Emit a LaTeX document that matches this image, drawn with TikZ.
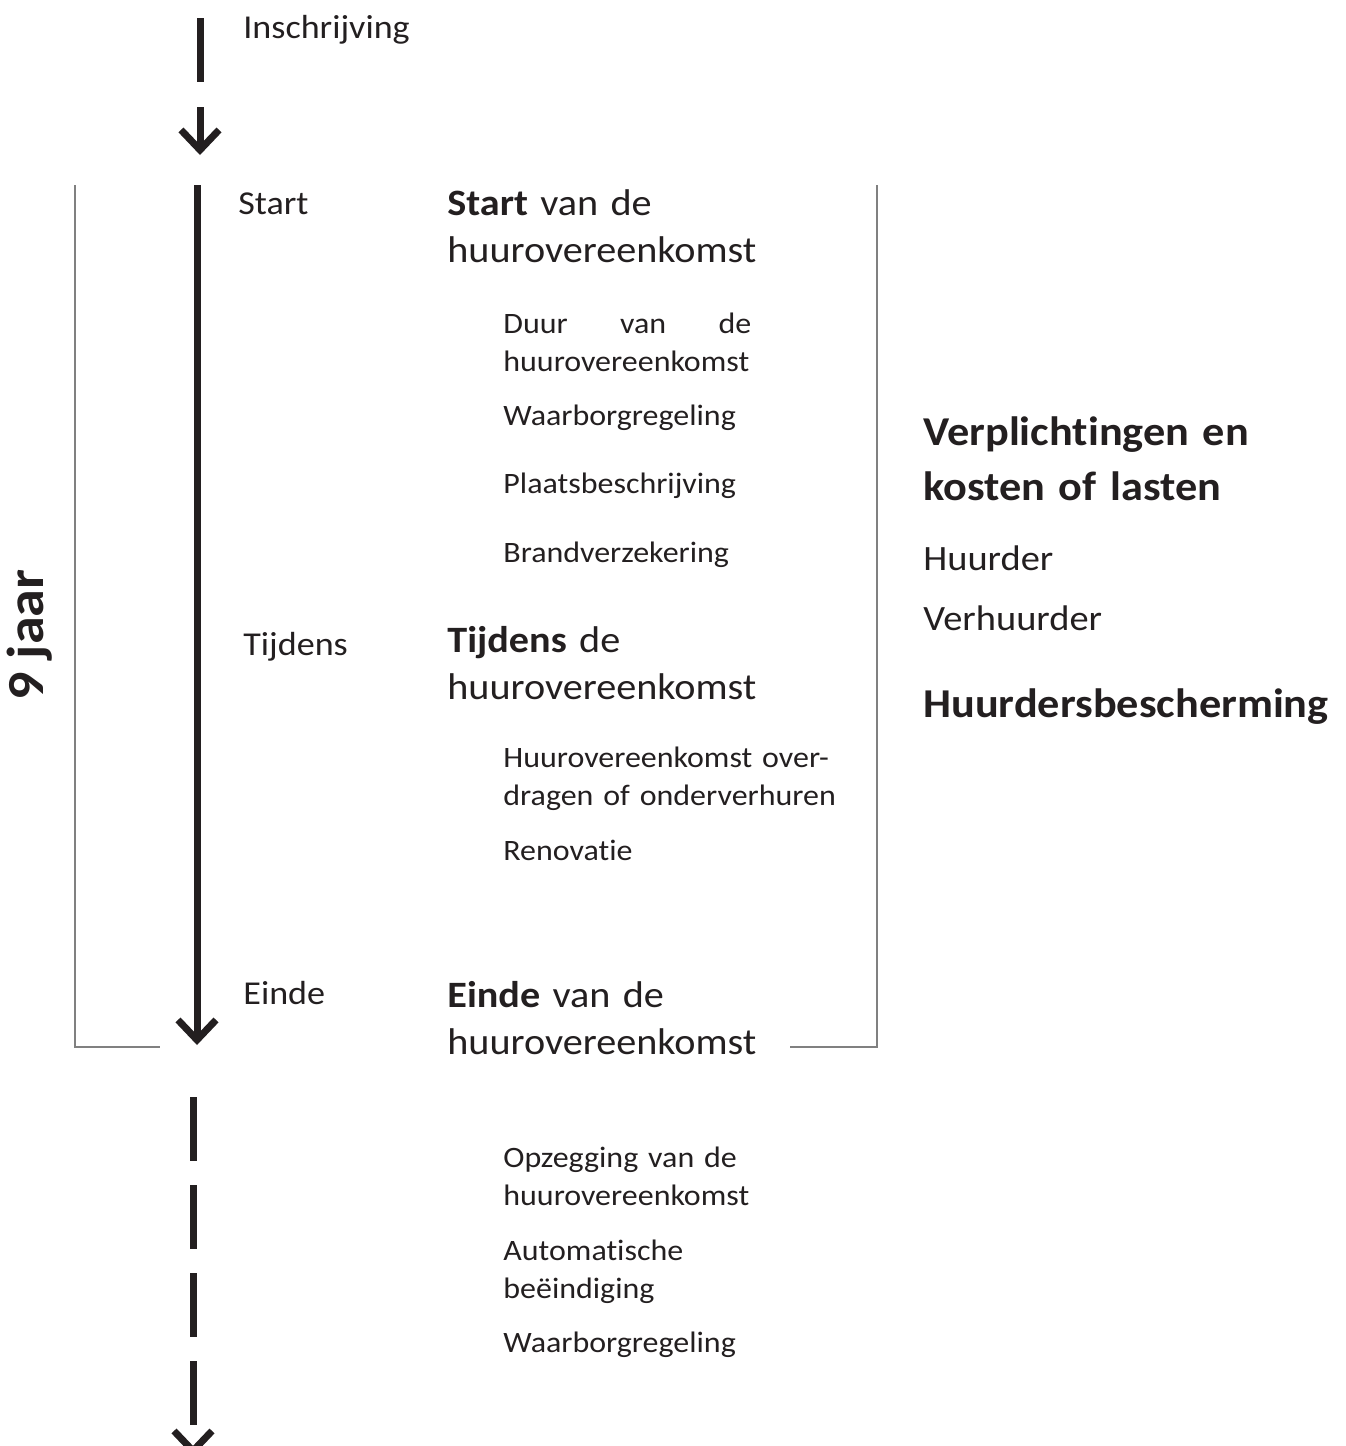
\documentclass[tikz,border=0pt]{standalone}
\usepackage{fontspec}
\setmainfont{Carlito}[FakeStretch=1.08,Ligatures={NoCommon,NoRequired,NoContextual,NoRare,NoDiscretionary}]
\usetikzlibrary{arrows.meta,positioning}
\definecolor{ink}{HTML}{231F20}
\tikzset{
	% standard arrow tip
	>={Straight Barb[length=10pt,width=19pt]},
	% timeline style
	axis/.style={
		->,
		line width=3.5pt,
		draw=ink
	},
	% grey bracket style
	bracket/.style={
		draw=black!50,
		line width=0.75pt
	},
	% text styles
	txt/.style={
		anchor=base west,
		inner sep=0pt,
		text=ink,
		align=left
	},
	label/.style={txt, font=\fontsize{16.7}{19}\selectfont},
	heading/.style={txt, text width=200pt, font=\fontsize{18.6}{23.7}\selectfont},
	item/.style={txt, text width=180pt, font=\fontsize{14.8}{19}\selectfont},
	side/.style={txt, text width=220pt, font=\fontsize{17.8}{20}\selectfont},
	sidehead/.style={txt, text width=220pt, font=\bfseries\fontsize{20.5}{27.5}\selectfont}
}

\begin{document}
\begin{tikzpicture}[x=0.5pt, y=-0.5pt]
	\useasboundingbox (0,0) rectangle (1345,1446);

	% axis points
	\coordinate (ins top) at (200,18);
	\coordinate (ins bot) at (200,82);
	\coordinate (ins arr) at (200,107);
	\coordinate (ins tip) at (200,155);
	\coordinate (run top) at (197,185);
	\coordinate (run tip) at (197,1045);
	\coordinate (after top) at (193,1097);
	\coordinate (after tip) at (193,1456);

	\draw[axis,-] (ins top) -- (ins bot);
	\draw[axis] (ins arr) -- (ins tip);
	\draw[axis] (run top) -- (run tip);
	\draw[axis,dash pattern=on 32pt off 12pt] (after top) -- (after tip);

	% brackets
	\draw[bracket] (75,185) |- (160,1047);
	\draw[bracket] (877,185) |- (790,1047);

	\node[txt,rotate=90,anchor=center,font=\bfseries\fontsize{26}{30}\selectfont] (jaar)
		at (30,635) {9 jaar};

	% phases
	\node[label] (inschrijving) at (243,38) {Inschrijving};
	\node[label] (start) at (238,214) {Start};
	\node[label] (tijdens) at (243,655) {Tijdens};
	\node[label] (einde) at (243,1004) {Einde};

	\node[heading] (startkop) at (447,215)
		{\textbf{Start} van de\\huurovereenkomst};
	\node[heading] (tijdenskop) at (447,652)
		{\textbf{Tijdens} de\\huurovereenkomst};
	\node[heading] (eindekop) at (447,1007)
		{\textbf{Einde} van de\\huurovereenkomst};

	% topics
	\node[item] (duur) at (503,333)
		{\hbox to 124pt{Duur\hfill van\hfill de}\\huurovereenkomst};
	\node[item] (waarborg) at (503,425) {Waarborgregeling};
	\node[item] (plaats) at (503,493) {Plaatsbeschrijving};
	\node[item] (brand) at (503,562) {Brandverzekering};
	\node[item] (overdragen) at (503,767)
		{Huurovereenkomst over-\\dragen of onderverhuren};
	\node[item] (renovatie) at (503,860) {Renovatie};
	\node[item] (opzegging) at (503,1167)
		{Opzegging van de\\huurovereenkomst};
	\node[item] (beeindiging) at (503,1260)
		{Automatische\\beëindiging};
	\node[item] (waarborgeinde) at (503,1352) {Waarborgregeling};

	% right column
	\node[sidehead] (verplicht) at (923,445)
		{Verplichtingen en\\kosten of lasten};
	\node[side] (huurder) at (923,570) {Huurder};
	\node[side] (verhuurder) at (923,630) {Verhuurder};
	\node[sidehead] (bescherming) at (923,717) {Huurdersbescherming};
\end{tikzpicture}
\end{document}
